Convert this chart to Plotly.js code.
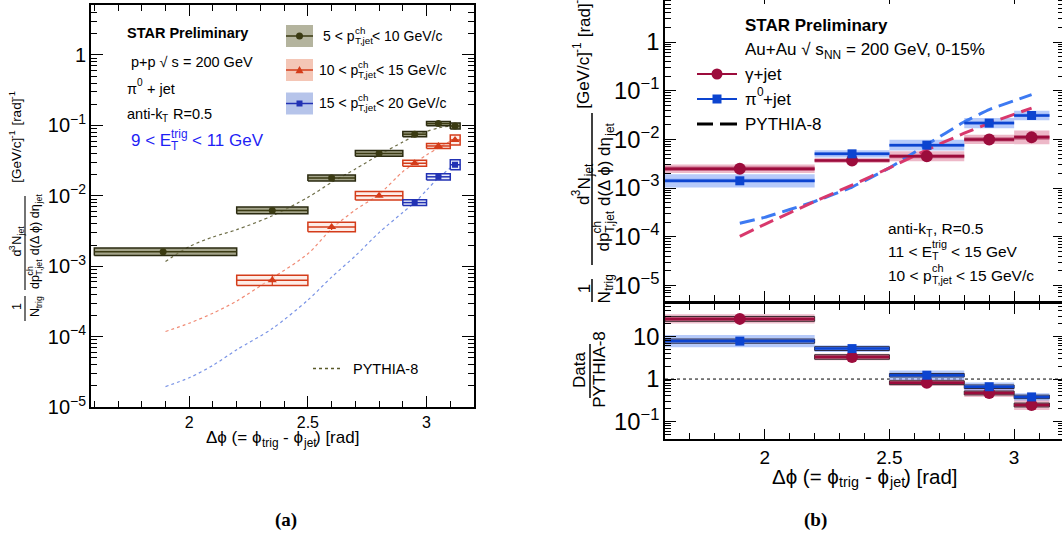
<!DOCTYPE html>
<html><head><meta charset="utf-8">
<script src="https://cdn.plot.ly/plotly-3.0.1.min.js"></script>
<style>
html,body{margin:0;padding:0;overflow:hidden;background:#fff;width:1062px;height:552px}
#chart{position:absolute;left:0;top:-8px;width:1070px;height:560px}
</style>
</head><body><div id="chart"></div>
<script>
// ================= DATA =================
// Panel (a): p+p 200 GeV, pi0+jet, 9 < ET_trig < 11 GeV
const binLoA = [1.6, 2.2, 2.5, 2.7, 2.9, 3.0, 3.1];
const binHiA = [2.2, 2.5, 2.7, 2.9, 3.0, 3.1, 3.1416];
const xA     = [1.89, 2.35, 2.6, 2.8, 2.95, 3.05, 3.12];
// 5 < pT,jet < 10 GeV/c (all bins)
const yA_5to10   = [1.6e-3, 6.2e-3, 1.79e-2, 4.0e-2, 7.5e-2, 1.06e-1, 9.8e-2];
const sysA_5to10 = [1.13, 1.12, 1.10, 1.10, 1.09, 1.07, 1.10];
const statA_5to10= [0.06, 0.04, 0.03, 0.03, 0.03, 0.04, 0.05];
// 10 < pT,jet < 15 GeV/c (bins 2..7)
const firstBinA_10to15 = 1;
const yA_10to15   = [6.3e-4, 3.6e-3, 1.0e-2, 2.9e-2, 5.1e-2, 6.2e-2];
const sysA_10to15 = [1.18, 1.17, 1.15, 1.10, 1.085, 1.18];
const statA_10to15= [0.20, 0.10, 0.05, 0.04, 0.03, 0.06];
// 15 < pT,jet < 20 GeV/c (bins 5..7)
const firstBinA_15to20 = 4;
const yA_15to20   = [8.0e-3, 1.86e-2, 2.76e-2];
const sysA_15to20 = [1.10, 1.11, 1.18];
const statA_15to20= [0.06, 0.04, 0.06];
// PYTHIA-8 curves, panel (a)
const pyXA        = [1.9, 2.0, 2.1, 2.2, 2.35, 2.5, 2.6, 2.7, 2.8, 2.9, 2.95, 3.0, 3.05, 3.12];
const pyA_5to10   = [1.17e-3, 1.9e-3, 2.6e-3, 3.3e-3, 5.2e-3, 9.5e-3, 1.55e-2, 2.4e-2, 3.8e-2, 5.8e-2, 7.1e-2, 8.2e-2, 9.2e-2, 1.0e-1];
const pyA_10to15  = [1.18e-4, 1.55e-4, 2.15e-4, 3.2e-4, 6.8e-4, 1.5e-3, 3.4e-3, 6.3e-3, 1.05e-2, 2.2e-2, 2.9e-2, 3.8e-2, 4.8e-2, 6.5e-2];
const pyA_15to20  = [1.95e-5, 2.6e-5, 3.9e-5, 6.5e-5, 1.3e-4, 3.3e-4, 7.0e-4, 1.4e-3, 3.0e-3, 5.8e-3, 8.0e-3, 1.2e-2, 1.8e-2, 2.8e-2];

// Panel (b): Au+Au 200 GeV 0-15%, 11 < ET_trig < 15 GeV, 10 < pT,jet < 15 GeV/c
const binLoB = [1.6, 2.2, 2.5, 2.8, 3.0];
const binHiB = [2.2, 2.5, 2.8, 3.0, 3.1416];
const xB     = [1.9, 2.35, 2.65, 2.9, 3.07];
const yB_gamma      = [2.5e-3, 3.7e-3, 4.5e-3, 1.0e-2, 1.1e-2];
const sysB_gamma    = [1.22, 1.125, 1.27, 1.24, 1.39];
const sys2B_gamma   = [1.11, 1.07, 1.10, 1.10, 1.12];
const yB_pi0        = [1.41e-3, 5.05e-3, 7.6e-3, 2.16e-2, 3.1e-2];
const sysB_pi0      = [1.37, 1.19, 1.29, 1.27, 1.25];
const sys2B_pi0     = [1.10, 1.08, 1.08, 1.08, 1.08];
// PYTHIA-8 curves, panel (b)
const pyXB          = [1.9, 2.0, 2.2, 2.35, 2.5, 2.65, 2.8, 2.9, 3.07];
const pyB_pi0       = [1.9e-4, 2.5e-4, 5.3e-4, 1.05e-3, 2.6e-3, 7.8e-3, 2.3e-2, 4.1e-2, 8.3e-2];
const pyB_gamma     = [1.02e-4, 1.8e-4, 5.3e-4, 1.15e-3, 2.6e-3, 6.1e-3, 1.34e-2, 2.15e-2, 4.4e-2];
// Data / PYTHIA-8
const ratioB_gamma     = [26, 3.3, 0.82, 0.47, 0.245];
const ratioSysB_gamma  = [1.28, 1.20, 1.20, 1.25, 1.31];
const ratioSys2B_gamma = [1.14, 1.13, 1.11, 1.11, 1.11];
const ratioB_pi0       = [7.8, 5.2, 1.23, 0.66, 0.38];
const ratioSysB_pi0    = [1.40, 1.20, 1.29, 1.25, 1.22];
const ratioSys2B_pi0   = [1.12, 1.11, 1.10, 1.10, 1.10];

// ================= HELPERS =================
const W = 1070, H = 560, OFF = 8;
const px = x => x / W;
const py = y => 1 - (y + OFF) / H;
const FONT = "'Liberation Sans', Arial, Helvetica, 'DejaVu Sans', sans-serif";
const SERIF = "'Liberation Serif', 'Times New Roman', serif";
const PHI = 'ϕ';
const ctx = document.createElement('canvas').getContext('2d');
function meas(t, size, bold) { ctx.font = (bold ? 'bold ' : '') + size + 'px ' + FONT; return ctx.measureText(t).width; }
const annotations = [], shapes = [];

// segments: [text, 'n'|'b'(sub)|'p'(sup)] ; adjacent sub+sup are stacked
function rich(segs, x, y, size, o = {}) {
  const small = size * 0.7, items = [];
  let adv = 0, i = 0;
  while (i < segs.length) {
    const k = segs[i][1];
    if (k === 'n') { items.push({ t: segs[i][0], k, off: adv, fs: size }); adv += meas(segs[i][0], size, o.bold); i++; }
    else {
      const grp = [segs[i]];
      if (i + 1 < segs.length && segs[i + 1][1] !== 'n' && segs[i + 1][1] !== k) grp.push(segs[i + 1]);
      let wm = 0;
      grp.forEach(g => { items.push({ t: g[0], k: g[1], off: adv, fs: small }); wm = Math.max(wm, meas(g[0], small, o.bold)); });
      adv += wm; i += grp.length;
    }
  }
  const start = o.center ? -adv / 2 : 0;
  items.forEach(it => {
    const lead = it.t.match(/^\s*/)[0], txt = it.t.trim();
    if (!txt) return;
    const along = start + it.off + (lead ? meas(lead, it.fs, o.bold) : 0);
    const shift = it.k === 'b' ? 0.3 * size : it.k === 'p' ? -0.42 * size : 0;
    const a = { xref: 'paper', yref: 'paper', text: txt, showarrow: false, borderpad: 0,
      font: { family: FONT, size: it.fs, color: o.color || '#000', weight: o.bold ? 'bold' : 'normal' } };
    if (o.rot) Object.assign(a, { x: px(x + shift), y: py(y - along), xanchor: 'center', yanchor: 'bottom', textangle: -90 });
    else Object.assign(a, { x: px(x + along), y: py(y + shift), xanchor: 'left', yanchor: 'middle' });
    annotations.push(a);
  });
}
function seg(x0, y0, x1, y1, color, width, dash) {
  shapes.push({ type: 'line', xref: 'paper', yref: 'paper', x0: px(x0), y0: py(y0), x1: px(x1), y1: py(y1),
    line: { color, width, dash: dash || 'solid' } });
}
function rectPx(x0, y0, x1, y1, fill, lc, lw) {
  shapes.push({ type: 'rect', xref: 'paper', yref: 'paper', x0: px(x0), y0: py(y0), x1: px(x1), y1: py(y1),
    fillcolor: fill, line: { color: lc || 'rgba(0,0,0,0)', width: lw || 0 } });
}
function circlePx(cx, cy, r, color) {
  shapes.push({ type: 'circle', xref: 'paper', yref: 'paper', x0: px(cx - r), y0: py(cy + r), x1: px(cx + r), y1: py(cy - r),
    fillcolor: color, line: { color, width: 0 } });
}
function triPx(cx, cy, r, color) {
  const p = `M${px(cx - r)},${py(cy + r * 0.8)} L${px(cx + r)},${py(cy + r * 0.8)} L${px(cx)},${py(cy - r)} Z`;
  shapes.push({ type: 'path', xref: 'paper', yref: 'paper', path: p, fillcolor: color, line: { color, width: 0 } });
}

function boxTrace(lo, hi, y, f, xa, ya, fill, lc, lw) {
  const X = [], Y = [];
  for (let i = 0; i < y.length; i++) {
    const a = y[i] / f[i], b = y[i] * f[i];
    X.push(lo[i], hi[i], hi[i], lo[i], lo[i], null);
    Y.push(a, a, b, b, a, null);
  }
  return { x: X, y: Y, xaxis: xa, yaxis: ya, mode: 'lines', fill: 'toself', fillcolor: fill,
    line: { color: lc || 'rgba(0,0,0,0)', width: lw || 0 }, hoverinfo: 'skip' };
}
function pointTrace(x, lo, hi, y, stat, xa, ya, color, sym, size, lw) {
  const t = { x, y, xaxis: xa, yaxis: ya, mode: 'markers', marker: { symbol: sym, size, color },
    error_x: { type: 'data', symmetric: false, array: x.map((v, i) => hi[i] - v), arrayminus: x.map((v, i) => v - lo[i]),
      width: 0, thickness: lw, color } };
  if (stat) t.error_y = { type: 'data', symmetric: false, array: y.map((v, i) => v * stat[i]),
      arrayminus: y.map((v, i) => v - v / (1 + stat[i])), width: 0, thickness: 1.2, color };
  return t;
}
function curve(x, y, xa, ya, color, width, dash, smooth) {
  return { x, y, xaxis: xa, yaxis: ya, mode: 'lines', line: { color, width, dash, shape: 'spline', smoothing: smooth }, hoverinfo: 'skip' };
}

// ================= TRACES =================
const traces = [];
const sl = (arr, s) => arr.slice(s);
// panel (a)
const OL = '#3a3a12', RD = '#d43c1a', BL = '#2232b4';
traces.push(curve(pyXA, pyA_5to10, 'x', 'y', '#6e6e48', 1.2, 'dot', 0.8));
traces.push(curve(pyXA, pyA_10to15, 'x', 'y', '#f08a74', 1.2, 'dot', 0.8));
traces.push(curve(pyXA, pyA_15to20, 'x', 'y', '#7a94e6', 1.2, 'dot', 0.8));
traces.push(boxTrace(binLoA, binHiA, yA_5to10, sysA_5to10, 'x', 'y', 'rgba(125,125,88,0.7)', '#2a2a10', 1.5));
traces.push(boxTrace(sl(binLoA, firstBinA_10to15), sl(binHiA, firstBinA_10to15), yA_10to15, sysA_10to15, 'x', 'y', 'rgba(250,215,205,0.45)', RD, 1.5));
traces.push(boxTrace(sl(binLoA, firstBinA_15to20), sl(binHiA, firstBinA_15to20), yA_15to20, sysA_15to20, 'x', 'y', 'rgba(205,215,245,0.45)', BL, 1.5));
traces.push(pointTrace(xA, binLoA, binHiA, yA_5to10, statA_5to10, 'x', 'y', OL, 'circle', 7, 1.5));
traces.push(pointTrace(sl(xA, firstBinA_10to15), sl(binLoA, firstBinA_10to15), sl(binHiA, firstBinA_10to15), yA_10to15, statA_10to15, 'x', 'y', RD, 'triangle-up', 8, 1.5));
traces.push(pointTrace(sl(xA, firstBinA_15to20), sl(binLoA, firstBinA_15to20), sl(binHiA, firstBinA_15to20), yA_15to20, statA_15to20, 'x', 'y', BL, 'square', 6, 1.5));

// panel (b) top
const GC = '#9c0c3c', PC = '#0c44d0';
traces.push(boxTrace(binLoB, binHiB, yB_gamma, sysB_gamma, 'x2', 'y2', 'rgba(222,125,155,0.55)'));
traces.push(boxTrace(binLoB, binHiB, yB_pi0, sysB_pi0, 'x2', 'y2', 'rgba(110,150,245,0.5)'));
traces.push(boxTrace(binLoB, binHiB, yB_gamma, sys2B_gamma, 'x2', 'y2', 'rgba(170,35,80,0.55)'));
traces.push(boxTrace(binLoB, binHiB, yB_pi0, sys2B_pi0, 'x2', 'y2', 'rgba(40,90,225,0.4)'));
traces.push(curve(pyXB, pyB_pi0, 'x2', 'y2', '#3d7af2', 3, '15px,7px', 0.3));
traces.push(curve(pyXB, pyB_gamma, 'x2', 'y2', '#d8386c', 3, '15px,7px', 0.3));
traces.push(pointTrace(xB, binLoB, binHiB, yB_gamma, null, 'x2', 'y2', GC, 'circle', 12, 2.5));
traces.push(pointTrace(xB, binLoB, binHiB, yB_pi0, null, 'x2', 'y2', PC, 'square', 9, 2.5));

// panel (b) ratio
traces.push(boxTrace(binLoB, binHiB, ratioB_gamma, ratioSysB_gamma, 'x3', 'y3', 'rgba(222,125,155,0.5)'));
traces.push(boxTrace(binLoB, binHiB, ratioB_pi0, ratioSysB_pi0, 'x3', 'y3', 'rgba(110,150,245,0.5)'));
traces.push(boxTrace(binLoB, binHiB, ratioB_gamma, ratioSys2B_gamma, 'x3', 'y3', 'rgba(170,35,80,0.55)', '#3a2a30', 1));
traces.push(boxTrace(binLoB, binHiB, ratioB_pi0, ratioSys2B_pi0, 'x3', 'y3', 'rgba(40,90,225,0.4)', '#2a2a45', 1));
traces.push(pointTrace(xB, binLoB, binHiB, ratioB_gamma, null, 'x3', 'y3', GC, 'circle', 12, 2.5));
traces.push(pointTrace(xB, binLoB, binHiB, ratioB_pi0, null, 'x3', 'y3', PC, 'square', 9, 2.5));
shapes.push({ type: 'line', xref: 'x3', yref: 'y3', x0: 1.6, x1: 3.2, y0: 1, y1: 1, line: { color: '#000', width: 1, dash: '3px,3px' }, layer: 'below' });

// ================= TEXT =================
// panel (a)
rich([['STAR Preliminary', 'n']], 126, 33, 14.5, { bold: true });
rich([['p+p √ s = 200 GeV', 'n']], 130, 62, 14.5);
rich([['π', 'n'], ['0', 'p'], [' + jet', 'n']], 126, 89, 14.5);
rich([['anti-k', 'n'], ['T', 'b'], [' R=0.5', 'n']], 126, 114, 14.5);
rich([['9 < E', 'n'], ['T', 'b'], ['trig', 'p'], [' < 11 GeV', 'n']], 130, 141, 17, { color: '#1f1ff5' });
const legA = [['5 < p', '< 10 GeV/c', 322, 36], ['10 < p', '< 15 GeV/c', 318, 70], ['15 < p', '< 20 GeV/c', 318, 103.5]];
legA.forEach(l => rich([[l[0], 'n'], ['ch', 'p'], ['T,jet', 'b'], [l[1], 'n']], l[2], l[3], 14));
// legend icons (a)
rectPx(286, 25, 313, 47, '#b4b49e'); seg(286, 36, 313, 36, OL, 1.5); circlePx(299.5, 36, 3.5, OL);
rectPx(286, 59, 313, 81, '#f4c6b6'); seg(286, 70, 313, 70, RD, 1.5); triPx(299.5, 70, 4, RD);
rectPx(286, 92.5, 313, 114.5, '#b6c4ea'); seg(286, 103.5, 313, 103.5, BL, 1.5); rectPx(296.5, 100.5, 302.5, 106.5, BL);
seg(313, 368.5, 342, 368.5, '#5a5a2a', 1.5, 'dot');
rich([['PYTHIA-8', 'n']], 352, 369, 14.5);
rich([['Δ' + PHI + ' (= ' + PHI, 'n'], ['trig', 'b'], [' - ' + PHI, 'n'], ['jet', 'b'], [') [rad]', 'n']], 282, 438, 17, { center: true });
// y title (a)
rich([['1', 'n']], 17, 308, 12.5, { rot: true, center: true });
seg(25, 296, 25, 321, '#000', 1.1);
rich([['N', 'n'], ['trig', 'b']], 35, 308, 12.5, { rot: true, center: true });
rich([['d', 'n'], ['3', 'p'], ['N', 'n'], ['jet', 'b']], 17, 243, 12.5, { rot: true, center: true });
seg(25, 196, 25, 290, '#000', 1.1);
rich([['dp', 'n'], ['ch', 'p'], ['T,jet', 'b'], [' d(Δ ' + PHI + ') dη', 'n'], ['jet', 'b']], 35, 243, 12.5, { rot: true, center: true });
rich([['[GeV/c]', 'n'], ['-1', 'p'], [' [rad]', 'n'], ['-1', 'p']], 17, 138, 13.5, { rot: true, center: true });

// panel (b)
rich([['STAR Preliminary', 'n']], 744, 25, 17, { bold: true });
rich([['Au+Au √ s', 'n'], ['NN', 'b'], [' = 200 GeV, 0-15%', 'n']], 744, 50, 17);
rich([['γ+jet', 'n']], 744, 74, 17);
rich([['π', 'n'], ['0', 'p'], ['+jet', 'n']], 744, 99, 17);
rich([['PYTHIA-8', 'n']], 744, 124, 17);
seg(697, 74, 737, 74, GC, 2); circlePx(717, 74, 5.5, GC);
seg(697, 99, 737, 99, PC, 2); rectPx(712.5, 94.5, 721.5, 103.5, PC);
seg(697, 124, 713, 124, '#000', 3); seg(720, 124, 737, 124, '#000', 3);
rich([['anti-k', 'n'], ['T', 'b'], [', R=0.5', 'n']], 887, 228, 15.5);
rich([['11 < E', 'n'], ['T', 'b'], ['trig', 'p'], [' < 15 GeV', 'n']], 887, 251, 15.5);
rich([['10 < p', 'n'], ['ch', 'p'], ['T,jet', 'b'], [' < 15 GeV/c', 'n']], 887, 275, 15.5);
rich([['Δ' + PHI + ' (= ' + PHI, 'n'], ['trig', 'b'], [' - ' + PHI, 'n'], ['jet', 'b'], [') [rad]', 'n']], 864, 476, 20.5, { center: true });
// y titles (b)
rich([['1', 'n']], 584, 290, 17, { rot: true, center: true });
seg(592, 279, 592, 302, '#000', 1.5);
rich([['N', 'n'], ['trig', 'b']], 604, 290, 17, { rot: true, center: true });
rich([['d', 'n'], ['3', 'p'], ['N', 'n'], ['jet', 'b']], 584, 186, 17, { rot: true, center: true });
seg(592, 113, 592, 265, '#000', 1.5);
rich([['dp', 'n'], ['ch', 'p'], ['T,jet', 'b'], [' d(Δ ' + PHI + ') dη', 'n'], ['jet', 'b']], 604, 189, 17, { rot: true, center: true });
rich([['[GeV/c]', 'n'], ['-1', 'p'], [' [rad]', 'n'], ['-1', 'p']], 584, 52, 17, { rot: true, center: true });
rich([['Data', 'n']], 580, 371, 17, { rot: true, center: true });
seg(590, 344, 590, 398, '#000', 1.5);
rich([['PYTHIA-8', 'n']], 600, 371, 17, { rot: true, center: true });

// captions
annotations.push({ xref: 'paper', yref: 'paper', x: px(273), y: py(533), text: '(a)', showarrow: false,
  font: { family: SERIF, size: 19, weight: 'bold', color: '#000' } });
annotations.push({ xref: 'paper', yref: 'paper', x: px(829), y: py(533), text: '(b)', showarrow: false,
  font: { family: SERIF, size: 19, weight: 'bold', color: '#000' } });

// ================= LAYOUT =================
const base = { showline: true, linecolor: '#000', linewidth: 1.8, mirror: 'ticks', ticks: 'inside',
  showgrid: false, zeroline: false, tickcolor: '#000', tickwidth: 1 };
const xMinor = { ticks: 'inside', ticklen: 6, tick0: 2, dtick: 0.1, tickcolor: '#000', showgrid: false };
const yMinor = { ticks: 'inside', ticklen: 6, dtick: 'D1', tickcolor: '#000', showgrid: false };
const layout = {
  width: W, height: H, margin: { l: 0, r: 0, t: 0, b: 0 }, showlegend: false,
  paper_bgcolor: '#fff', plot_bgcolor: 'rgba(0,0,0,0)', font: { family: FONT, color: '#000' },
  xaxis: { ...base, domain: [px(91), px(474)], anchor: 'y', range: [1.586, 3.2], tickmode: 'linear', tick0: 2, dtick: 0.5,
    ticklen: 11, minor: xMinor, tickfont: { family: FONT, size: 16 } },
  yaxis: { ...base, domain: [py(407), py(5)], anchor: 'x', type: 'log', range: [-5, 0.71], tickmode: 'linear', tick0: 0, dtick: 1,
    exponentformat: 'power', ticklen: 12, minor: yMinor, tickfont: { family: FONT, size: 16 } },
  xaxis2: { ...base, domain: [px(665), px(1064)], anchor: 'y2', range: [1.6, 3.2], tickmode: 'linear', tick0: 2, dtick: 0.5,
    ticklen: 10, minor: xMinor, showticklabels: false },
  yaxis2: { ...base, domain: [py(301), py(-6.4)], anchor: 'x2', type: 'log', range: [-5.32, 0.995], tickmode: 'linear', tick0: 0, dtick: 1,
    exponentformat: 'power', ticklen: 11, minor: yMinor, tickfont: { family: FONT, size: 19 } },
  xaxis3: { ...base, domain: [px(665), px(1064)], anchor: 'y3', range: [1.6, 3.2], tickmode: 'linear', tick0: 2, dtick: 0.5,
    ticklen: 10, minor: xMinor, tickfont: { family: FONT, size: 19 } },
  yaxis3: { ...base, domain: [py(439), py(304)], anchor: 'x3', type: 'log', range: [-1.41, 1.765], tickmode: 'linear', tick0: 0, dtick: 1,
    exponentformat: 'power', ticklen: 11, minor: yMinor, tickfont: { family: FONT, size: 19 } },
  annotations, shapes
};
Plotly.newPlot('chart', traces, layout, { staticPlot: true, displayModeBar: false });
</script></body></html>
